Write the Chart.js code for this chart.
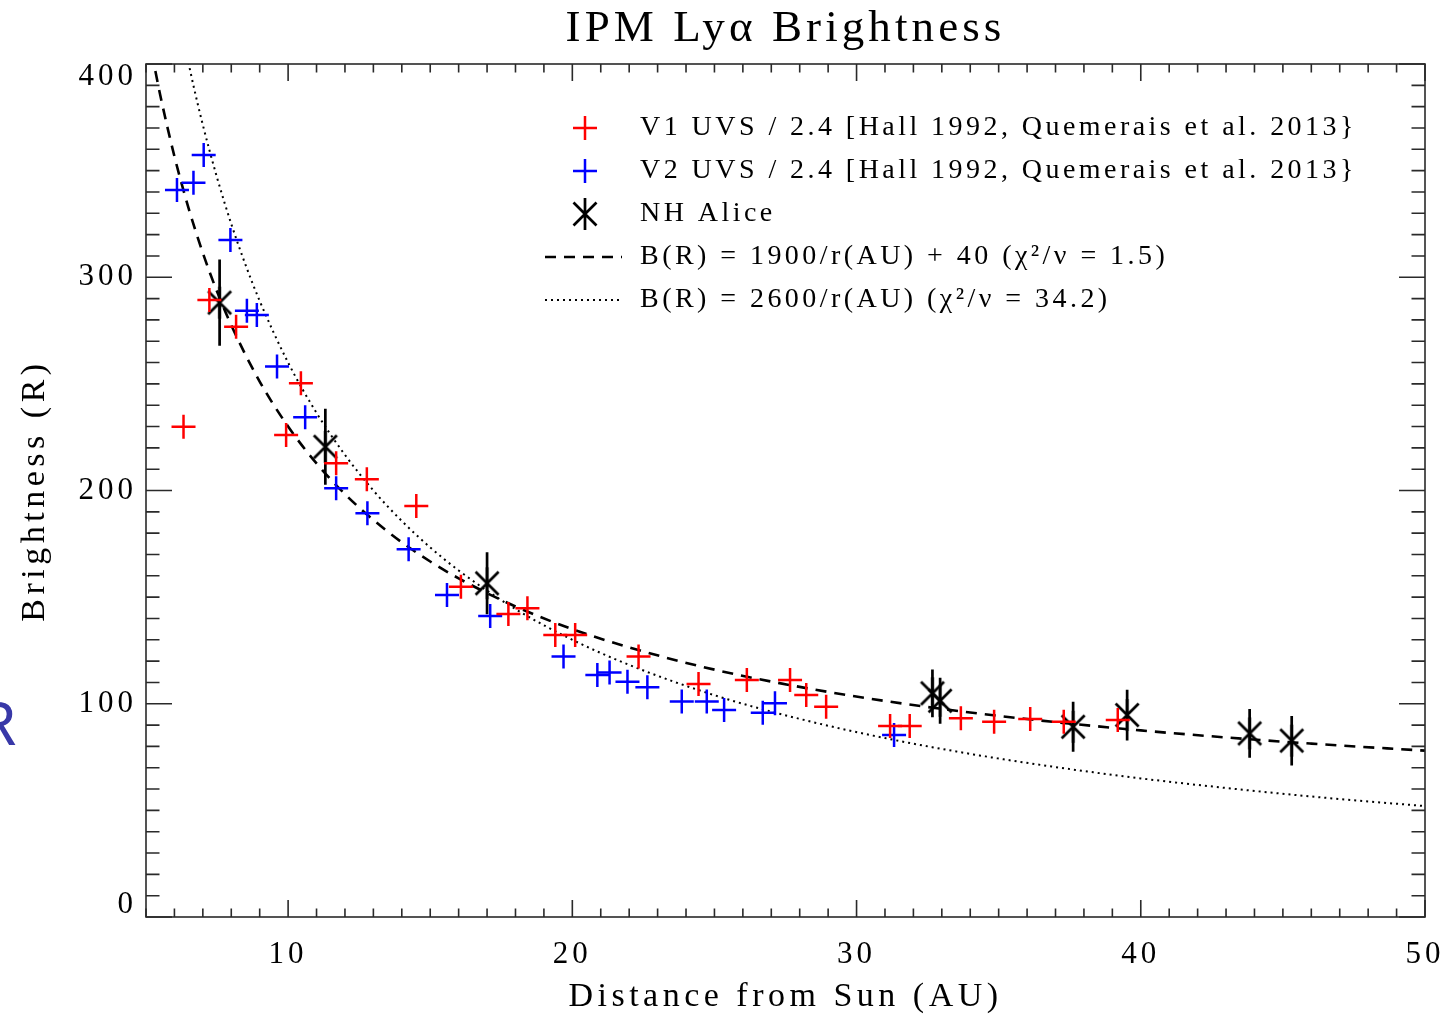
<!DOCTYPE html>
<html>
<head>
<meta charset="utf-8">
<script src="https://cdn.jsdelivr.net/npm/chart.js@4.4.1/dist/chart.umd.min.js"></script>
<style>
html,body{margin:0;padding:0;background:#fff;}
#wrap{width:1450px;height:1016px;position:relative;}
</style>
</head>
<body>
<div id="wrap"><canvas id="c"></canvas></div>
<script>
// ---------------- DATA ----------------
const v1X = [6.32, 7.23, 8.17, 9.93, 10.45, 11.69, 12.77, 14.51, 16.08, 17.75, 18.42, 19.40, 20.10, 22.33, 24.44, 26.14, 27.66, 28.23, 28.93, 31.18, 31.87, 33.67, 34.84, 36.11, 37.29, 39.19];
const v1Y = [229.9, 289.3, 276.8, 226.0, 250.3, 212.8, 205.3, 192.7, 154.9, 142.1, 144.8, 132.2, 132.2, 122.1, 109.3, 111.1, 111.1, 104.1, 98.6, 89.6, 89.6, 93.2, 91.6, 92.8, 91.6, 92.4];

const v2X = [6.09, 6.67, 7.03, 7.97, 8.55, 8.90, 9.61, 10.60, 11.69, 12.79, 14.24, 15.59, 17.11, 19.69, 20.88, 21.31, 21.94, 22.64, 23.85, 24.73, 25.34, 26.70, 27.13, 31.32];
const v2Y = [340.9, 344.3, 357.3, 317.5, 284.3, 282.3, 258.1, 234.3, 201.0, 189.3, 172.4, 151.0, 141.1, 122.1, 113.5, 114.6, 110.3, 107.7, 101.0, 101.0, 97.1, 95.8, 100.2, 85.3];

const nhX   = [7.59, 11.31, 17.00, 32.67, 32.94, 37.62, 39.52, 43.83, 45.31];
const nhY   = [288.1, 220.5, 156.5, 104.9, 101.4, 89.2, 94.7, 86.1, 82.7];
const nhErr = [20.2, 17.8, 14.5, 11.2, 10.8, 11.7, 11.9, 11.4, 11.6];

// fitted curves
const fitDashX = [5.2, 5.5, 6, 6.5, 7, 7.5, 8, 9, 10, 11, 12, 13, 14, 15, 16, 18, 20, 22, 25, 28, 31, 34, 37, 40, 43, 46, 50];
const fitDashY = [405.4, 385.5, 356.7, 332.3, 311.4, 293.3, 277.5, 251.1, 230.0, 212.7, 198.3, 186.2, 175.7, 166.7, 158.8, 145.6, 135.0, 126.4, 116.0, 107.9, 101.3, 95.9, 91.4, 87.5, 84.2, 81.3, 78.0];
const fitDotX = [6.4, 6.7, 7, 7.5, 8, 8.5, 9, 10, 11, 12, 13, 14, 15, 16, 18, 20, 22, 25, 28, 31, 34, 37, 40, 43, 46, 50];
const fitDotY = [406.3, 388.1, 371.4, 346.7, 325.0, 305.9, 288.9, 260.0, 236.4, 216.7, 200.0, 185.7, 173.3, 162.5, 144.4, 130.0, 118.2, 104.0, 92.9, 83.9, 76.5, 70.3, 65.0, 60.5, 56.5, 52.0];

const xTickValues = [10, 20, 30, 40, 50];
const xTickLabels = ['10', '20', '30', '40', '50'];
const yTickValues = [0, 100, 200, 300, 400];
const yTickLabels = ['0', '100', '200', '300', '400'];

const titleText = 'IPM Ly\u03B1 Brightness';
const xTitle = 'Distance from Sun (AU)';
const yTitle = 'Brightness (R)';
const legendLabels = [
  'V1 UVS / 2.4 [Hall 1992, Quemerais et al. 2013}',
  'V2 UVS / 2.4 [Hall 1992, Quemerais et al. 2013}',
  'NH Alice',
  'B(R) = 1900/r(AU) + 40 (\u03C7\u00B2/\u03BD = 1.5)',
  'B(R) = 2600/r(AU) (\u03C7\u00B2/\u03BD = 34.2)'
];

// ---------------- STYLE HELPERS ----------------
const FONT = 'Liberation Serif';
function lsFor(size){
  if (size >= 55) return 0;
  if (size >= 44) return 4.1;   // title
  if (size >= 33) return 4.5;   // axis titles
  if (size >= 30) return 4;     // tick labels
  if (size >= 27) return 3.45;  // legend
  return 0;
}

function makeAsterisk(){
  const c = document.createElement('canvas');
  c.width = 36; c.height = 36;
  const g = c.getContext('2d');
  g.strokeStyle = '#000'; g.lineWidth = 2.7; g.lineCap = 'butt';
  g.beginPath();
  g.moveTo(18, 2); g.lineTo(18, 34);
  g.moveTo(6.5, 6.5); g.lineTo(29.5, 29.5);
  g.moveTo(6.5, 29.5); g.lineTo(29.5, 6.5);
  g.stroke();
  return c;
}
const asterisk = makeAsterisk();

const pts = (xs, ys) => xs.map((x, i) => ({x: x, y: ys[i]}));
const errSegs = [];
nhX.forEach((x, i) => {
  errSegs.push({x: x, y: nhY[i] - nhErr[i]});
  errSegs.push({x: x, y: nhY[i] + nhErr[i]});
  errSegs.push({x: x, y: null});
});

// ---------------- PLUGINS ----------------
const spacingPlugin = {
  id: 'spacing',
  beforeInit(chart){
    const ctx = chart.ctx;
    const orig = ctx.fillText;
    ctx.fillText = function(t, x, y, mw){
      const m = /(\d+(?:\.\d+)?)px/.exec(this.font);
      const s = m ? parseFloat(m[1]) : 0;
      try { this.letterSpacing = lsFor(s) + 'px'; } catch(e) {}
      if (mw === undefined) return orig.call(this, t, x, y);
      return orig.call(this, t, x, y, mw);
    };
  }
};

const idlAxes = {
  id: 'idlAxes',
  afterDatasetsDraw(chart){
    const {ctx, chartArea: a, scales: {x, y}} = chart;
    ctx.save();
    ctx.strokeStyle = '#2a2a2a';
    ctx.lineWidth = 1.6;
    ctx.strokeRect(a.left, a.top, a.right - a.left, a.bottom - a.top);
    ctx.beginPath();
    for (let v = x.min; v <= x.max + 1e-9; v += 1) {
      const px = x.getPixelForValue(v);
      const len = (v % 10 === 0) ? 17 : 8.5;
      ctx.moveTo(px, a.bottom); ctx.lineTo(px, a.bottom - len);
      ctx.moveTo(px, a.top); ctx.lineTo(px, a.top + len);
    }
    for (let v = y.min; v <= y.max + 1e-9; v += 10) {
      const py = y.getPixelForValue(v);
      const len = (v % 100 === 0) ? 26 : 13.5;
      ctx.moveTo(a.left, py); ctx.lineTo(a.left + len, py);
      ctx.moveTo(a.right, py); ctx.lineTo(a.right - len, py);
    }
    ctx.stroke();
    ctx.restore();
  },
  afterDraw(chart){
    const ctx = chart.ctx;
    const ds = chart.data.datasets;
    ctx.save();
    // legend
    const rowY = [128, 171, 214, 257, 300];
    const mx = 585, tx = 640;
    ctx.font = '28px "' + FONT + '"';
    ctx.textBaseline = 'middle';
    ctx.textAlign = 'left';
    ctx.fillStyle = '#000';
    [0, 1].forEach(i => {
      ctx.strokeStyle = ds[i].borderColor; ctx.lineWidth = 2.5;
      ctx.beginPath();
      ctx.moveTo(mx - 12, rowY[i]); ctx.lineTo(mx + 12, rowY[i]);
      ctx.moveTo(mx, rowY[i] - 12); ctx.lineTo(mx, rowY[i] + 12);
      ctx.stroke();
    });
    ctx.drawImage(asterisk, mx - 18, rowY[2] - 18);
    [4, 5].forEach((di, k) => {
      ctx.strokeStyle = '#000';
      ctx.lineWidth = ds[di].borderWidth;
      ctx.setLineDash(ds[di].borderDash);
      ctx.beginPath();
      ctx.moveTo(545, rowY[3 + k]); ctx.lineTo(622, rowY[3 + k]);
      ctx.stroke();
    });
    ctx.setLineDash([]);
    legendLabels.forEach((t, i) => ctx.fillText(t, tx, rowY[i]));
    // stray glyph at left edge of the original slide
    ctx.font = '60px "Noto Sans"';
    ctx.fillStyle = '#3838a8';
    ctx.fillText('R', -21, 728);
    ctx.restore();
  }
};

// ---------------- CHART ----------------
new Chart(document.getElementById('c'), {
  type: 'scatter',
  data: {
    datasets: [
      { label: legendLabels[0], data: pts(v1X, v1Y), pointStyle: 'cross', pointRadius: 12,
        borderColor: '#ff0000', backgroundColor: '#ff0000', pointBorderWidth: 2.5, borderWidth: 2.5, showLine: false },
      { label: legendLabels[1], data: pts(v2X, v2Y), pointStyle: 'cross', pointRadius: 12,
        borderColor: '#0000ff', backgroundColor: '#0000ff', pointBorderWidth: 2.5, borderWidth: 2.5, showLine: false },
      { label: legendLabels[2], data: pts(nhX, nhY), pointStyle: asterisk, pointRadius: 12,
        borderColor: '#000', backgroundColor: '#000', showLine: false },
      { label: 'NH error', type: 'line', data: errSegs, showLine: true, spanGaps: false,
        borderColor: '#000', borderWidth: 2.7, pointRadius: 0, fill: false },
      { label: legendLabels[3], type: 'line', data: pts(fitDashX, fitDashY), showLine: true,
        borderColor: '#000', borderWidth: 2.6, borderDash: [11, 8], pointRadius: 0, fill: false,
        cubicInterpolationMode: 'monotone' },
      { label: legendLabels[4], type: 'line', data: pts(fitDotX, fitDotY), showLine: true,
        borderColor: '#000', borderWidth: 2, borderDash: [2, 4], pointRadius: 0, fill: false,
        cubicInterpolationMode: 'monotone' }
    ]
  },
  options: {
    responsive: true,
    maintainAspectRatio: false,
    animation: false,
    events: [],
    layout: { padding: { left: 0, right: 25, top: 0, bottom: 0 } },
    plugins: {
      legend: { display: false },
      tooltip: { enabled: false },
      title: {
        display: true, text: titleText, fullSize: false, color: '#000',
        font: { family: FONT, size: 45, weight: 'normal', lineHeight: 1 },
        padding: { top: 7, bottom: 12 }
      }
    },
    scales: {
      x: {
        type: 'linear', position: 'bottom', min: 5, max: 50,
        afterFit(s){ s.height = 99; s.paddingLeft = 0; s.paddingRight = 0; },
        afterBuildTicks(s){ s.ticks = xTickValues.map(v => ({value: v})); },
        grid: { display: false, drawTicks: false },
        border: { display: false },
        ticks: {
          autoSkip: false, maxRotation: 0, minRotation: 0, color: '#000', padding: 22,
          font: { family: FONT, size: 31, lineHeight: 1 },
          callback: (v) => xTickLabels[xTickValues.indexOf(v)]
        },
        title: {
          display: true, text: xTitle, color: '#000',
          font: { family: FONT, size: 34, lineHeight: 1 },
          padding: { top: 0, bottom: 2 }
        }
      },
      y: {
        type: 'linear', position: 'left', min: 0, max: 400,
        afterFit(s){ s.width = 146; s.paddingTop = 0; s.paddingBottom = 0; },
        afterBuildTicks(s){ s.ticks = yTickValues.map(v => ({value: v})); },
        grid: { display: false, drawTicks: false },
        border: { display: false },
        ticks: {
          autoSkip: false, color: '#000', padding: 9,
          font: { family: FONT, size: 31, lineHeight: 0.8 },
          callback: (v) => {
            const lab = yTickLabels[yTickValues.indexOf(v)];
            if (v === yTickValues[yTickValues.length - 1]) return ['', lab];
            if (v === yTickValues[0]) return [lab, ''];
            return lab;
          }
        },
        title: {
          display: true, text: yTitle, color: '#000',
          font: { family: FONT, size: 34, lineHeight: 1 },
          padding: { top: 18, bottom: 0 }
        }
      }
    }
  },
  plugins: [spacingPlugin, idlAxes]
});
</script>
</body>
</html>
